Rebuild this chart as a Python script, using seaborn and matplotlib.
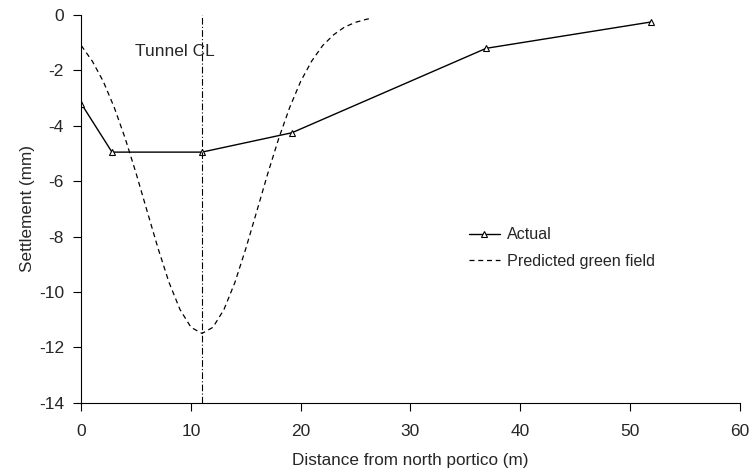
import matplotlib
matplotlib.use("Agg")
import matplotlib.pyplot as plt
import seaborn as sns
import pandas as pd

# Actual settlement measurements
actual_x = [0.0, 2.8, 11.0, 19.2, 36.9, 51.9]
actual_y = [-3.2, -4.95, -4.95, -4.25, -1.2, -0.25]

# Predicted green field settlement trough
pred_x = [0, 1, 2, 3, 4, 5, 6, 7, 8, 9, 10, 11, 12, 13, 14, 15, 16, 17,
          18, 19, 20, 21, 22, 23, 24, 25, 26, 26.5]
pred_y = [-1.10, -1.66, -2.39, -3.33, -4.45, -5.72, -7.08, -8.43, -9.66,
          -10.64, -11.28, -11.5, -11.28, -10.64, -9.66, -8.43, -7.08, -5.72,
          -4.45, -3.33, -2.39, -1.66, -1.10, -0.71, -0.43, -0.26, -0.15, -0.11]

tunnel_cl_x = 11.0
x_ticks = [0, 10, 20, 30, 40, 50, 60]
y_ticks = [0, -2, -4, -6, -8, -10, -12, -14]

sns.set_style("ticks")
plt.rcParams['font.family'] = ['Liberation Sans', 'DejaVu Sans']
plt.rcParams['axes.unicode_minus'] = False

fig = plt.figure(figsize=(7.49, 4.72), dpi=100)
ax = fig.add_axes([0.1085, 0.147, 0.879, 0.821])

df_act = pd.DataFrame({"x": actual_x, "y": actual_y})
df_pred = pd.DataFrame({"x": pred_x, "y": pred_y})

sns.lineplot(data=df_act, x="x", y="y", ax=ax, color="black", lw=1.0,
             marker="^", markersize=5, markerfacecolor="white",
             markeredgecolor="black", markeredgewidth=0.8, label="Actual",
             sort=False)
sns.lineplot(data=df_pred, x="x", y="y", ax=ax, color="black", lw=0.9,
             linestyle=(0, (4, 3)), label="Predicted green field", sort=False)

ax.axvline(tunnel_cl_x, color="black", lw=0.8, linestyle=(0, (6, 2, 1, 2)))
ax.text(4.9, -1.33, "Tunnel CL", fontsize=12.5, va="center", ha="left")

ax.set_xlim(0, 60)
ax.set_ylim(-14, 0)
ax.set_xticks(x_ticks)
ax.set_yticks(y_ticks)
ax.tick_params(labelsize=12.5, length=5.5, width=0.8, color="black")
ax.tick_params(axis="x", pad=10)
ax.tick_params(axis="y", pad=7)
for s in ["top", "right"]:
    ax.spines[s].set_visible(False)
for s in ["left", "bottom"]:
    ax.spines[s].set_linewidth(0.8)
    ax.spines[s].set_color("black")

ax.set_xlabel("Distance from north portico (m)", fontsize=12.3, labelpad=10)
ax.set_ylabel("Settlement (mm)", fontsize=12.3, labelpad=3)

ax.legend(loc="center left", bbox_to_anchor=(0.567, 0.399), frameon=False,
          fontsize=11.6, handlelength=1.9, handletextpad=0.45, labelspacing=0.7)

fig.savefig("out.png", dpi=100)
